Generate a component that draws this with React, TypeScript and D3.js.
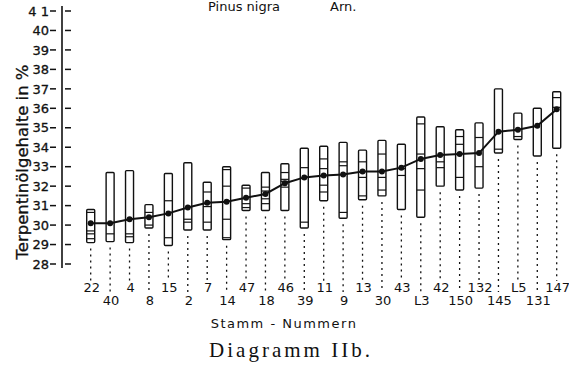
import React, { useEffect, useRef } from "react";
import * as d3 from "d3";

// Stamm-Nummern, links nach rechts
const stems = ["22", "40", "4", "8", "15", "2", "7", "14", "47", "18", "46", "39", "11", "9", "13", "30", "43", "L3", "42", "150", "132", "145", "L5", "131", "147"];
const maxVals = [30.8, 32.7, 32.8, 31.05, 32.65, 33.2, 32.2, 33.0, 32.05, 32.7, 33.15, 33.95, 34.05, 34.25, 33.85, 34.35, 34.15, 35.55, 35.05, 34.9, 35.25, 37.0, 35.75, 36.0, 36.85];
const minVals = [29.1, 29.15, 29.1, 29.85, 28.95, 29.75, 29.75, 29.25, 30.75, 30.75, 30.75, 29.85, 31.25, 30.35, 31.3, 31.5, 30.8, 30.4, 32.0, 31.8, 31.9, 33.7, 34.4, 33.55, 33.95];
const means = [30.1, 30.1, 30.3, 30.4, 30.6, 30.9, 31.15, 31.2, 31.4, 31.6, 32.15, 32.45, 32.55, 32.6, 32.75, 32.75, 32.95, 33.4, 33.6, 33.65, 33.7, 34.8, 34.9, 35.1, 35.95];
const singleVals = [
  [30.65, 29.7, 29.55, 29.3],
  [29.55],
  [29.55, 29.4],
  [30.65, 30.0],
  [31.25, 29.35],
  [30.3, 30.15],
  [31.7, 30.95, 30.15],
  [32.85, 32.0, 30.3, 29.35],
  [31.9, 31.1, 30.9],
  [31.95, 31.75, 31.35, 31.1],
  [32.7, 32.35, 32.25, 31.95],
  [32.95, 30.15],
  [33.4, 32.9, 32.05, 31.7],
  [33.25, 33.05, 30.65],
  [33.25, 32.45, 31.5],
  [33.65, 32.45, 31.8],
  [32.9, 32.55],
  [35.2, 33.65, 32.9, 31.8],
  [33.25, 32.95],
  [34.55, 34.15, 32.45],
  [34.5, 33.0],
  [33.9],
  [34.55],
  [],
  [36.55, 36.05],
];
const yTicks = d3.range(28, 42);

const W = 569;
const H = 366;
const font = "'DejaVu Sans', sans-serif";

const App: React.FC = () => {
  const svgRef = useRef<SVGSVGElement | null>(null);

  useEffect(() => {
    if (!svgRef.current) return;
    const svg = d3.select(svgRef.current);
    svg.selectAll("*").remove();

    const x = d3.scalePoint<string>().domain(stems).range([90.7, 556.7]);
    const y = d3.scaleLinear().domain([28, 41]).range([264, 11]);
    const axisX = 62;

    svg.append("rect").attr("width", W).attr("height", H).attr("fill", "#fff");

    // title
    svg.append("text").attr("x", 208).attr("y", 11).style("font-family", font)
      .style("font-size", "13px").attr("fill", "#111").text("Pinus nigra");
    svg.append("text").attr("x", 330).attr("y", 11).style("font-family", font)
      .style("font-size", "13px").attr("fill", "#111").text("Arn.");

    // y axis
    svg.append("line").attr("x1", axisX).attr("x2", axisX)
      .attr("y1", 6).attr("y2", 268).attr("stroke", "#111").attr("stroke-width", 1.6);
    const ticks = svg.append("g");
    yTicks.forEach((t) => {
      ticks.append("line").attr("x1", 50).attr("x2", 56).attr("y1", y(t)).attr("y2", y(t))
        .attr("stroke", "#111").attr("stroke-width", 1.5);
      ticks.append("line").attr("x1", 65).attr("x2", 71).attr("y1", y(t)).attr("y2", y(t))
        .attr("stroke", "#111").attr("stroke-width", 1.5);
      ticks.append("text").attr("x", 49).attr("y", y(t)).attr("dy", "0.36em")
        .attr("text-anchor", "end").style("font-family", font).style("font-size", "13px")
        .attr("fill", "#111").attr("stroke", "#111").attr("stroke-width", 0.3)
        .text(t === 41 ? "4 1" : String(t));
    });
    svg.append("text")
      .attr("transform", `translate(28, 162) rotate(-90)`)
      .attr("text-anchor", "middle").style("font-family", font).style("font-size", "16.5px")
      .attr("fill", "#111").attr("stroke", "#111").attr("stroke-width", 0.3)
      .text("Terpentinölgehalte in %");

    // dotted guide lines
    stems.forEach((s, i) => {
      const lower = i % 2 === 1;
      svg.append("line").attr("x1", x(s)!).attr("x2", x(s)!)
        .attr("y1", y(minVals[i]) + 6).attr("y2", lower ? 292 : 281)
        .attr("stroke", "#111").attr("stroke-width", 1.3).attr("stroke-dasharray", "2,4");
    });

    // boxes
    const bw = 8;
    stems.forEach((s, i) => {
      const cx = x(s)!;
      svg.append("rect").attr("x", cx - bw / 2).attr("y", y(maxVals[i]))
        .attr("width", bw).attr("height", y(minVals[i]) - y(maxVals[i]))
        .attr("rx", 1).attr("fill", "#fff").attr("stroke", "#111").attr("stroke-width", 1.4);
      singleVals[i].forEach((v) => {
        svg.append("line").attr("x1", cx - bw / 2).attr("x2", cx + bw / 2)
          .attr("y1", y(v)).attr("y2", y(v)).attr("stroke", "#111").attr("stroke-width", 1.2);
      });
    });

    // mean line
    const line = d3.line<number>().x((_, i) => x(stems[i])!).y((d) => y(d));
    svg.append("path").datum(means).attr("d", line).attr("fill", "none")
      .attr("stroke", "#111").attr("stroke-width", 2);
    svg.selectAll(".dot").data(means).enter().append("circle").attr("class", "dot")
      .attr("cx", (_, i) => x(stems[i])!).attr("cy", (d) => y(d)).attr("r", 3)
      .attr("fill", "#111");

    // stem labels, two rows
    stems.forEach((s, i) => {
      svg.append("text").attr("x", x(s)! + 1).attr("y", i % 2 === 1 ? 305 : 292)
        .attr("text-anchor", "middle").style("font-family", font).style("font-size", "13px")
        .attr("fill", "#111").text(s);
    });

    svg.append("text").attr("x", 284).attr("y", 328).attr("text-anchor", "middle")
      .style("font-family", font).style("font-size", "13px").style("letter-spacing", "1.5px")
      .attr("fill", "#111").text("Stamm - Nummern");
    svg.append("text").attr("x", 291).attr("y", 357).attr("text-anchor", "middle")
      .style("font-family", "'Liberation Serif', 'DejaVu Serif', serif").style("font-size", "21px")
      .style("letter-spacing", "3px").attr("fill", "#111").text("Diagramm IIb.");
  }, []);

  return (
    <svg ref={svgRef} width={W} height={H}
      style={{ position: "absolute", left: 0, top: 0, display: "block" }} />
  );
};

export default App;
